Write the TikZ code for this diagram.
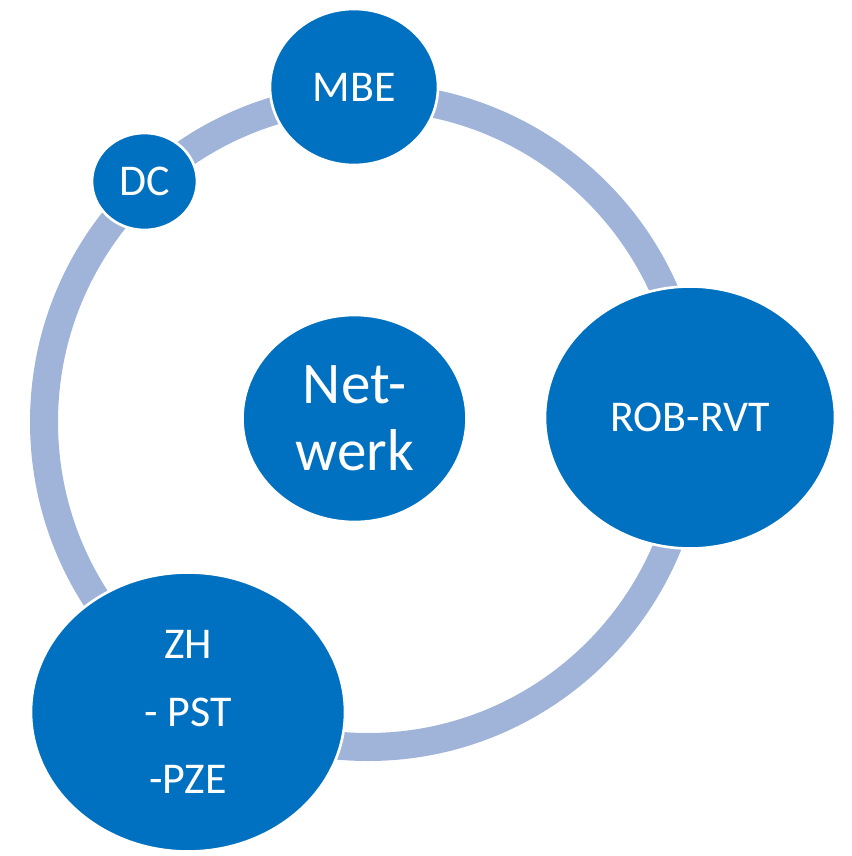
\documentclass[tikz,border=0pt]{standalone}
\usepackage{fontspec}
\setmainfont{Carlito}
\usepackage{tikz}
\usetikzlibrary{shapes.geometric}
\definecolor{netblue}{RGB}{0,112,192}
\definecolor{ringblue}{RGB}{160,180,218}
\begin{document}
\begin{tikzpicture}[
  bubble/.style={ellipse,fill=netblue,draw=white,line width=1.5pt,inner sep=0pt,
    text=white,align=center,font=\fontsize{25}{38.5}\selectfont},
  ring/.style={draw=ringblue,line width=0.56cm}]
\useasboundingbox (0,0) rectangle (17.02,-17.12);
\path (7.36,-8.44) coordinate (mid);
\draw[ring] (mid) ellipse [x radius=6.48,y radius=6.5];
% the bubbles
\node[bubble,minimum width=4.48cm,minimum height=4.14cm,
  font=\fontsize{33.6}{38}\selectfont] (netwerk) at (7.09,-8.37) {Net-\\werk};
\node[bubble,minimum width=3.36cm,minimum height=3.12cm] (mbe) at (7.08,-1.74) {MBE};
\node[bubble,minimum width=2.1cm,minimum height=1.94cm] (dc) at (2.89,-3.63) {DC};
\node[bubble,minimum width=5.8cm,minimum height=5.24cm] (rob) at (13.8,-8.35) {ROB-RVT};
\node[bubble,minimum width=6.28cm,minimum height=5.58cm] (zh) at (3.76,-14.24) {ZH\\- PST\\-PZE};
\end{tikzpicture}
\end{document}
